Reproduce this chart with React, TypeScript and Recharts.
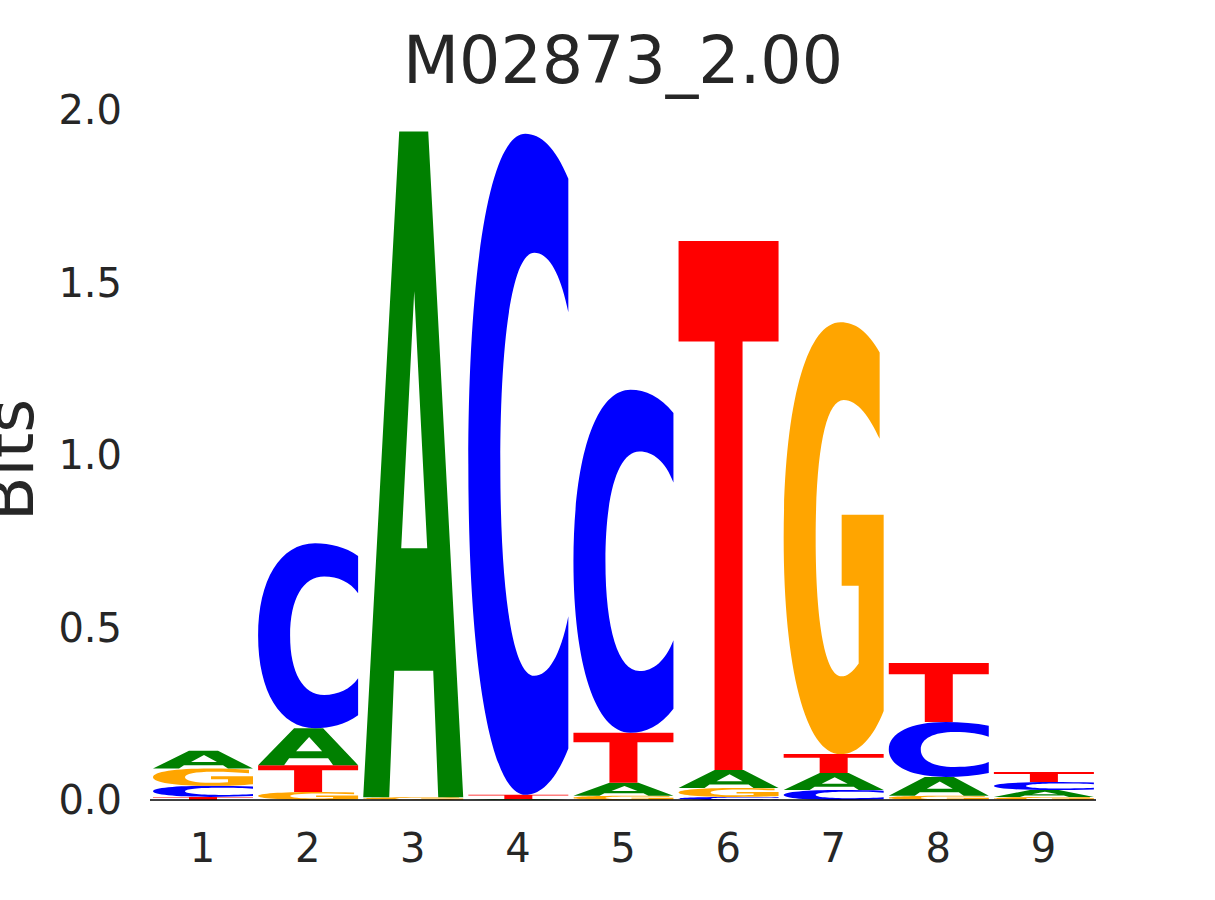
import React from 'react';
import { BarChart, Bar, XAxis, YAxis } from 'recharts';

const positions = ['1', '2', '3', '4', '5', '6', '7', '8', '9'];
const letters = ['A', 'C', 'G', 'T'];
const heightA = [0.052, 0.107, 1.93, 0.003, 0.038, 0.052, 0.049, 0.055, 0.02];
const heightC = [0.032, 0.536, 0, 1.916, 0.994, 0.009, 0.029, 0.159, 0.023];
const heightG = [0.05, 0.023, 0.008, 0, 0.012, 0.026, 1.252, 0.012, 0.009];
const heightT = [0.009, 0.078, 0, 0.012, 0.145, 1.533, 0.055, 0.171, 0.029];
const yTicks = [0, 0.5, 1.0, 1.5, 2.0];
const title = 'M02873_2.00';
const yLabel = 'Bits';

const COLORS: Record<string, string> = { A: '#008000', C: '#0000ff', G: '#ffa500', T: '#ff0000' };

const PATHS: Record<string, string> = {
  A: 'M0,1 L0.36,0 L0.65,0 L1,1 L0.75,1 L0.70,0.81 L0.31,0.81 L0.26,1 Z M0.51,0.24 L0.64,0.626 L0.38,0.626 Z',
  T: 'M0,0 L1,0 L1,0.19 L0.64,0.19 L0.64,1 L0.36,1 L0.36,0.19 L0,0.19 Z',
  C: 'M1,0.068 C0.87,0.02 0.72,0 0.57,0 C0.22,0 0,0.2 0,0.5 C0,0.8 0.22,1 0.57,1 C0.72,1 0.87,0.98 1,0.93 L1,0.73 C0.92,0.79 0.8,0.82 0.66,0.82 C0.45,0.82 0.32,0.7 0.32,0.5 C0.32,0.3 0.45,0.18 0.66,0.18 C0.8,0.18 0.92,0.21 1,0.27 Z',
  G: 'M0.96,0.07 C0.84,0.02 0.71,0 0.57,0 C0.22,0 0,0.2 0,0.5 C0,0.8 0.22,1 0.57,1 C0.75,1 0.9,0.96 1,0.9 L1,0.446 L0.58,0.446 L0.58,0.61 L0.75,0.61 L0.75,0.79 C0.69,0.81 0.63,0.82 0.58,0.82 C0.42,0.82 0.32,0.7 0.32,0.5 C0.32,0.3 0.42,0.18 0.6,0.18 C0.74,0.18 0.86,0.22 0.96,0.27 Z',
};

const series: Record<string, number[]> = { A: heightA, C: heightC, G: heightG, T: heightT };

// build stacked table: rank 0 = smallest (bottom)
const data = positions.map((pos, i) => {
  const row: any = { pos };
  const sorted = letters
    .map((l) => ({ l, v: series[l][i] }))
    .sort((a, b) => a.v - b.v);
  sorted.forEach((s, r) => {
    row['h' + r] = s.v;
    row['l' + r] = s.l;
  });
  return row;
});

const makeShape = (rank: number) => (props: any) => {
  const { x, y, width, height, payload } = props;
  if (!height || height <= 0 || !payload) return <g />;
  const letter = payload['l' + rank];
  return (
    <path
      d={PATHS[letter]}
      fill={COLORS[letter]}
      fillRule="evenodd"
      transform={`translate(${x},${y}) scale(${width},${height})`}
    />
  );
};

const FONT = '"DejaVu Sans", sans-serif';
const TXT = '#262626';

export default function App() {
  return (
    <div style={{ position: 'absolute', left: 0, top: 0, width: 1215, height: 900, background: '#fff' }}>
      <BarChart
        width={1215}
        height={900}
        data={data}
        margin={{ top: 110, right: 119, bottom: 40, left: 50 }}
        barSize={100}
      >
        <XAxis
          dataKey="pos"
          axisLine={{ stroke: '#000', strokeWidth: 1.3 }}
          tickLine={false}
          tickSize={0}
          tickMargin={34}
          height={60}
          tick={{ fontSize: 40, fill: TXT, fontFamily: FONT }}
        />
        <YAxis
          domain={[0, 2]}
          ticks={yTicks}
          tickFormatter={(v: number) => v.toFixed(1)}
          axisLine={false}
          tickLine={false}
          tickSize={0}
          tickMargin={28}
          width={100}
          interval={0}
          allowDataOverflow
          tick={{ fontSize: 40, fill: TXT, fontFamily: FONT }}
        />
        {[0, 1, 2, 3].map((r) => (
          <Bar key={r} dataKey={'h' + r} stackId="logo" isAnimationActive={false} shape={makeShape(r)} />
        ))}
      </BarChart>
      <svg
        width={1215}
        height={900}
        style={{ position: 'absolute', left: 0, top: 0, pointerEvents: 'none' }}
      >
        <text x={623} y={83} textAnchor="middle" fontSize={65} fill={TXT} fontFamily={FONT}>
          {title}
        </text>
        <text
          x={33}
          y={460}
          textAnchor="middle"
          fontSize={65}
          fill={TXT}
          fontFamily={FONT}
          transform="rotate(-90, 33, 460)"
        >
          {yLabel}
        </text>
      </svg>
    </div>
  );
}
